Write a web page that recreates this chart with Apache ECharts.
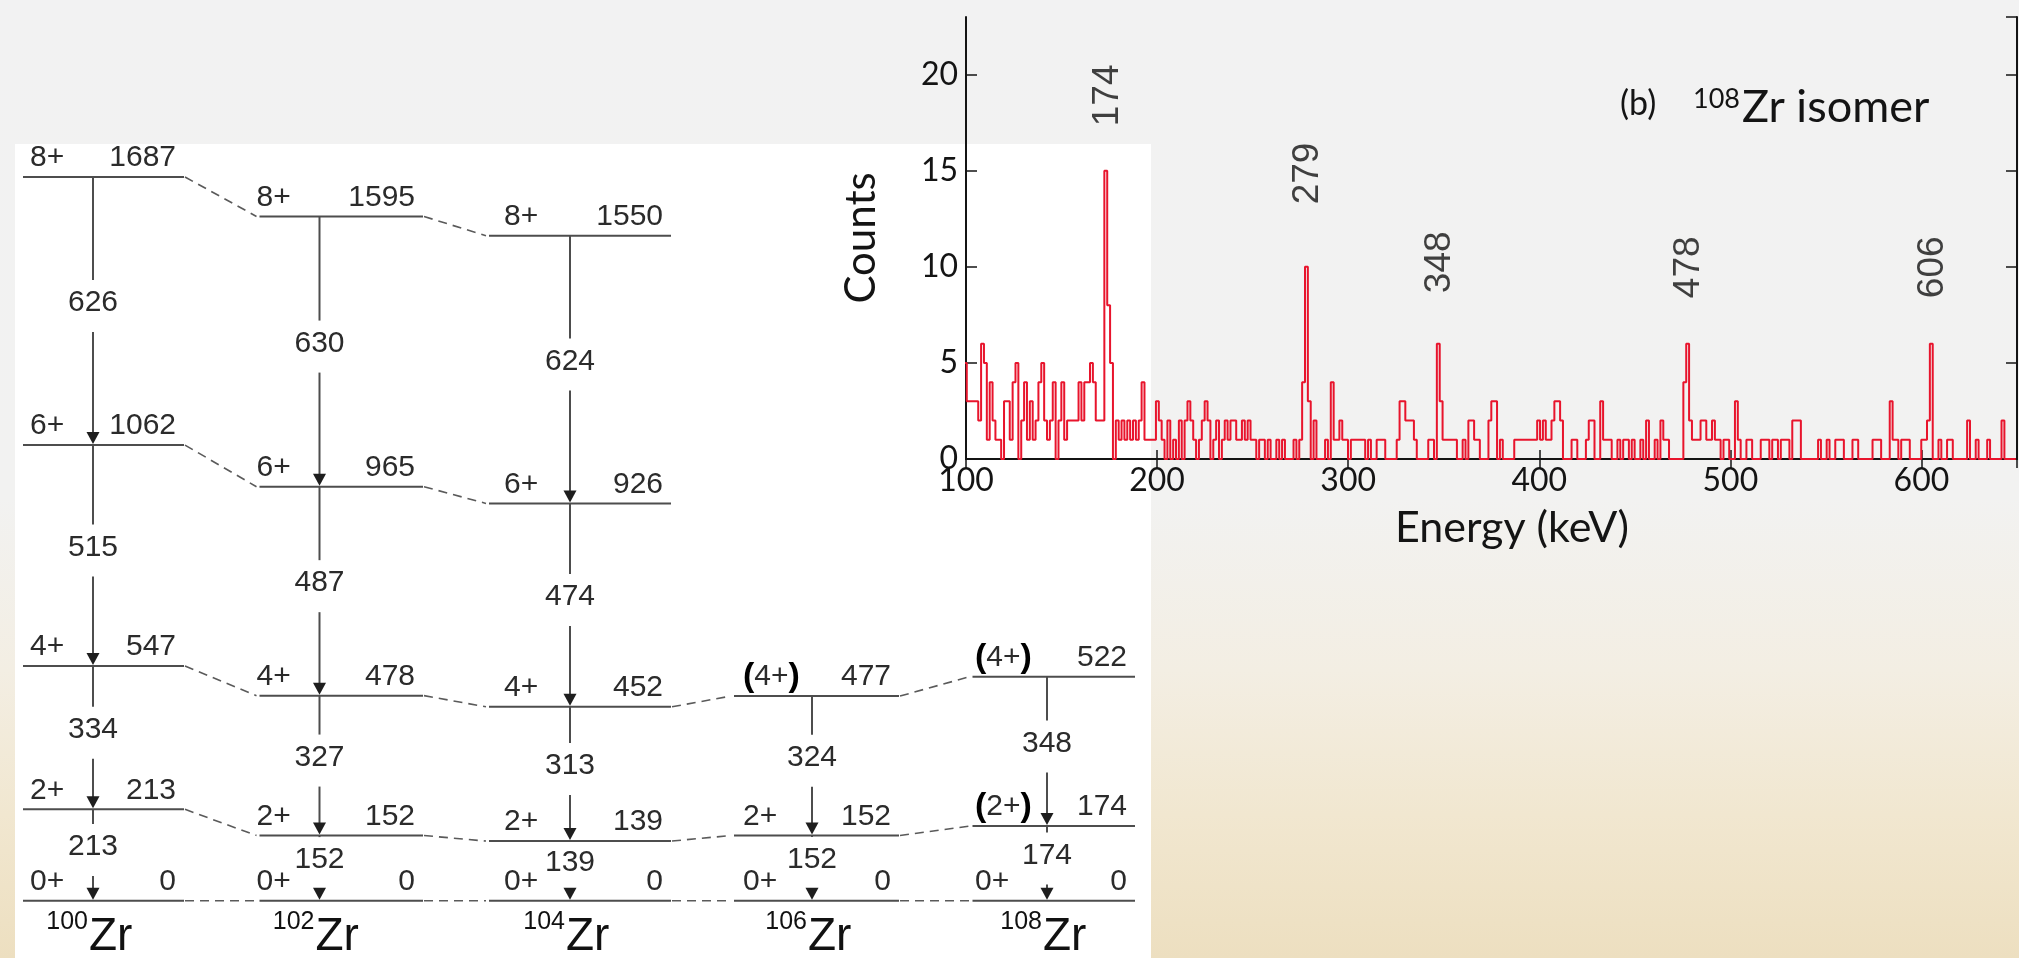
<!DOCTYPE html>
<html>
<head>
<meta charset="utf-8">
<script src="https://cdn.jsdelivr.net/npm/echarts@6/dist/echarts.min.js"></script>
<style>
html,body{margin:0;padding:0;width:2019px;height:958px;overflow:hidden;}
body{background:linear-gradient(180deg,#f2f2f2 0%,#f2f2f1 52%,#f3eee3 70%,#f1e7d0 85%,#eddfc0 100%);position:relative;}
#panel{position:absolute;left:15px;top:144px;width:1136px;height:814px;background:#ffffff;}
#chart{position:absolute;left:0;top:0;width:2019px;height:958px;}
</style>
</head>
<body>
<div id="panel"></div>
<div id="chart"></div>
<script>
// ================= DATA =================
// Spectrum (b): 108Zr isomer, histogram with 1.5 keV bins
const binStart = 98.9;   // keV, lower edge of first bin
const binWidth = 1.5;    // keV
const counts = [
  5,3,3,3,3,2,6,5,1,4,2,1,1,0,3,3,1,4,5,0,
  2,4,1,3,1,2,4,5,2,1,2,4,0,2,4,1,2,2,2,2,
  4,2,4,4,5,4,2,2,2,15,8,5,0,2,1,2,1,2,1,2,
  1,2,4,1,1,1,1,3,2,1,0,2,0,1,0,2,0,2,3,2,
  1,0,1,2,3,2,0,1,2,0,1,2,1,2,2,1,1,2,1,2,
  1,1,0,1,1,0,1,0,0,1,0,1,0,0,0,1,0,1,4,10,
  3,0,2,0,0,0,1,0,4,1,1,2,1,1,0,1,1,1,1,1,
  0,1,0,0,1,1,1,0,0,0,0,1,3,3,2,2,2,1,0,0,
  0,0,1,1,0,6,3,1,1,1,1,1,0,0,1,0,2,2,1,1,
  0,0,0,2,3,3,0,1,0,0,0,0,1,1,1,1,1,1,1,1,
  2,1,2,1,1,2,3,3,2,0,0,0,1,1,0,0,0,1,2,2,
  0,0,3,1,1,1,0,0,1,0,1,1,0,1,0,0,1,0,2,0,
  0,1,0,2,1,1,0,0,0,0,0,4,6,2,1,1,1,2,2,1,
  1,2,1,1,0,1,1,0,0,3,1,0,0,1,1,0,0,0,1,1,
  1,0,1,1,0,1,1,1,0,2,2,2,0,0,0,0,0,0,1,0,
  0,1,0,0,1,1,1,0,0,0,1,1,0,0,0,0,0,1,1,1,
  0,0,0,3,1,1,0,1,1,1,0,0,0,0,1,1,2,6,0,0,
  1,0,0,1,1,0,0,0,0,0,2,0,0,1,0,0,0,1,0,0,
  0,0,2,0,0,0,0
];
const xTicks = [100,200,300,400,500,600];
const yTicks = [0,5,10,15,20];
const peakEnergies = [174,279,348,478,606];
const peakLabels = ['174','279','348','478','606'];

// Level schemes of even-even Zr isotopes
const massNumbers = [100,102,104,106,108];
const levelEnergies = [
  [0,213,547,1062,1687],
  [0,152,478,965,1595],
  [0,139,452,926,1550],
  [0,152,477],
  [0,174,522]
];
const levelSpins = [
  ['0+','2+','4+','6+','8+'],
  ['0+','2+','4+','6+','8+'],
  ['0+','2+','4+','6+','8+'],
  ['0+','2+','(4+)'],
  ['0+','(2+)','(4+)']
];
const gammaEnergies = [
  [213,334,515,626],
  [152,327,487,630],
  [139,313,474,624],
  [152,324],
  [174,348]
];

// ================= LAYOUT / STYLE =================
const LAYOUT = {
  lineL:  [-80.5,-81.5,-89.5,-82,-81],   // px, level line left end from column position
  lineR:  [ 80.5, 82,   92.5, 83, 81.5],
  arrowDx:[-10.5,-21.5,-8.5,-4,-6.5],
  spinDx: [-73.5,-84.5,-74.5,-73,-78.5],
  levelTextRise: 19,
  gammaRise: 8,
  gapAbove: 23,
  gapBelow: 29,
  arrowW: 13,
  arrowH: 12,
  peakLabelGap: [44,62,50,45,45]
};
const FONT_D = '"Liberation Sans", Arial, Helvetica, sans-serif';
const FONT_S = 'Lato, "Open Sans", sans-serif';
const TXT = '#2b2b2b';
const LINEC = '#4d4d4d';
const RED = '#e8142c';
const AX = '#141414';

// ================= BUILD =================
const histData = counts.map((c,k) => [binStart + k*binWidth, c]);
histData.push([binStart + counts.length*binWidth, counts[counts.length-1]]);

const peakCounts = peakEnergies.map(E => {
  let m = 0;
  counts.forEach((c,k) => {
    const lo = binStart + k*binWidth, hi = lo + binWidth;
    if (hi > E - 2.5 && lo < E + 0.5) m = Math.max(m, c);
  });
  return m;
});

const levelItems = [], transItems = [], connItems = [];
massNumbers.forEach((A,n) => {
  levelEnergies[n].forEach((E,i) => levelItems.push({A, E, n, spin: levelSpins[n][i]}));
  gammaEnergies[n].forEach((Eg,i) => transItems.push({A, n, Eg, Eu: levelEnergies[n][i+1], El: levelEnergies[n][i]}));
});
for (let n = 0; n < massNumbers.length - 1; n++) {
  const a = levelEnergies[n], b = levelEnergies[n+1];
  for (let i = 0; i < Math.min(a.length, b.length); i++) {
    connItems.push({n1:n, n2:n+1, A1:massNumbers[n], E1:a[i], A2:massNumbers[n+1], E2:b[i]});
  }
}

function spinRich(s){
  if (s[0] === '(') return '{p|(}{s|' + s.slice(1,-1) + '}{p|)}';
  return '{s|' + s + '}';
}
const RICH = {
  s: {fontSize:30, fontFamily:FONT_D, fill:TXT},
  p: {fontSize:34, fontFamily:FONT_D, fontWeight:'bold', fill:'#000'}
};

const chart = echarts.init(document.getElementById('chart'), null, {renderer:'canvas', width:2019, height:958});

const axisCommon = {
  type:'value',
  axisLine:{show:true, lineStyle:{color:AX, width:2}},
  splitLine:{show:false}
};

const option = {
  animation:false,
  backgroundColor:'transparent',
  grid:[
    {left:966, top:17, width:1051, height:442, containLabel:false},
    {left:8.5, top:128.5, width:1140, height:772.2, containLabel:false}
  ],
  xAxis:[
    Object.assign({}, axisCommon, {
      gridIndex:0, position:'bottom', min:100, max:650, interval:100,
      axisTick:{show:true, inside:true, length:9, lineStyle:{color:AX, width:1.5}},
      axisLabel:{show:true, margin:6, color:AX, fontFamily:FONT_S, fontSize:32, showMaxLabel:false,
        formatter: v => xTicks.includes(v) ? String(v) : ''},
      name:'Energy (keV)', nameLocation:'middle', nameGap:48,
      nameTextStyle:{fontFamily:FONT_S, fontSize:43, color:AX, padding:[0,0,0,41]}
    }),
    Object.assign({}, axisCommon, {
      gridIndex:0, position:'top', min:100, max:650, interval:100,
      axisTick:{show:true, inside:true, length:9, lineStyle:{color:AX, width:1.5}},
      axisLabel:{show:false}
    }),
    {gridIndex:1, type:'value', min:99.2, max:108.8, show:false}
  ],
  yAxis:[
    Object.assign({}, axisCommon, {
      gridIndex:0, position:'left', min:0, max:23, interval:5,
      axisTick:{show:true, inside:true, length:11, lineStyle:{color:AX, width:1.5}},
      axisLabel:{show:true, margin:8, color:AX, fontFamily:FONT_S, fontSize:32, showMaxLabel:false,
        formatter: v => yTicks.includes(v) ? String(v) : ''},
      name:'Counts', nameLocation:'middle', nameGap:84,
      nameTextStyle:{fontFamily:FONT_S, fontSize:42, color:AX}
    }),
    Object.assign({}, axisCommon, {
      gridIndex:0, position:'right', min:0, max:23, interval:5,
      axisTick:{show:true, inside:true, length:11, lineStyle:{color:AX, width:1.5}},
      axisLabel:{show:false}
    }),
    {gridIndex:1, type:'value', min:0, max:1800, show:false}
  ],
  graphic:[
    {type:'text', x:1620, y:104, style:{text:'(b)', font:'34px ' + FONT_S, fill:AX, align:'left', verticalAlign:'middle'}},
    {type:'text', x:1740, y:99, style:{text:'108', font:'27px ' + FONT_S, fill:AX, align:'right', verticalAlign:'middle'}},
    {type:'text', x:1742, y:107, style:{text:'Zr isomer', font:'45px ' + FONT_S, fill:AX, align:'left', verticalAlign:'middle'}}
  ],
  series:[
    {
      type:'line', xAxisIndex:0, yAxisIndex:0, data:histData, step:'end',
      showSymbol:false, symbol:'none', clip:true,
      lineStyle:{color:RED, width:2}, z:3
    },
    {
      type:'scatter', xAxisIndex:0, yAxisIndex:0, symbolSize:1, silent:true,
      itemStyle:{color:'rgba(0,0,0,0)'},
      data: peakEnergies.map((E,i) => ({value:[E, peakCounts[i]], label:{distance:LAYOUT.peakLabelGap[i]}})),
      label:{show:true, position:'top', rotate:90, align:'left', verticalAlign:'middle',
        fontFamily:FONT_D, fontSize:37, color:'#111',
        formatter: p => peakLabels[p.dataIndex]},
      z:4
    },
    {
      // dashed connectors between corresponding levels
      type:'custom', xAxisIndex:2, yAxisIndex:2, silent:true,
      data: connItems.map(d => [d.A1, d.E1, d.A2, d.E2]),
      renderItem: function(params, api){
        const d = connItems[params.dataIndex];
        const p1 = api.coord([d.A1, d.E1]), p2 = api.coord([d.A2, d.E2]);
        return {type:'line', shape:{x1:p1[0]+LAYOUT.lineR[d.n1]+1, y1:p1[1], x2:p2[0]+LAYOUT.lineL[d.n2]-3, y2:p2[1]},
          style:{stroke:'#5a5a5a', lineWidth:1.6, lineDash:[9,6]}};
      }
    },
    {
      // levels
      type:'custom', xAxisIndex:2, yAxisIndex:2, silent:true,
      data: levelItems.map(d => [d.A, d.E]),
      renderItem: function(params, api){
        const d = levelItems[params.dataIndex];
        const c = api.coord([d.A, d.E]);
        const x1 = c[0] + LAYOUT.lineL[d.n], x2 = c[0] + LAYOUT.lineR[d.n];
        const ty = c[1] - LAYOUT.levelTextRise;
        return {type:'group', children:[
          {type:'line', shape:{x1:x1, y1:c[1], x2:x2, y2:c[1]}, style:{stroke:LINEC, lineWidth:2}},
          {type:'text', style:{x:c[0]+LAYOUT.spinDx[d.n], y:ty, text:spinRich(d.spin), rich:RICH,
            font:'30px ' + FONT_D, fill:TXT, align:'left', verticalAlign:'middle'}},
          {type:'text', style:{x:x2-8, y:ty, text:String(d.E), font:'30px ' + FONT_D, fill:TXT,
            align:'right', verticalAlign:'middle'}}
        ]};
      }
    },
    {
      // gamma transitions
      type:'custom', xAxisIndex:2, yAxisIndex:2, silent:true,
      data: transItems.map(d => [d.A, d.Eu, d.El]),
      renderItem: function(params, api){
        const d = transItems[params.dataIndex];
        const top = api.coord([d.A, d.Eu]), bot = api.coord([d.A, d.El]);
        const ax = top[0] + LAYOUT.arrowDx[d.n];
        const ly = (top[1] + bot[1]) / 2 - LAYOUT.gammaRise;
        const g1 = ly - LAYOUT.gapAbove, g2 = ly + LAYOUT.gapBelow;
        const tipY = bot[1] - 1, baseY = tipY - LAYOUT.arrowH;
        const ch = [];
        if (g1 > top[1]) ch.push({type:'line', shape:{x1:ax, y1:top[1], x2:ax, y2:g1}, style:{stroke:LINEC, lineWidth:2}});
        if (baseY > g2) ch.push({type:'line', shape:{x1:ax, y1:g2, x2:ax, y2:baseY+1}, style:{stroke:LINEC, lineWidth:2}});
        ch.push({type:'polygon', shape:{points:[[ax-LAYOUT.arrowW/2, baseY],[ax+LAYOUT.arrowW/2, baseY],[ax, tipY]]},
          style:{fill:'#1e1e1e'}});
        ch.push({type:'text', style:{x:ax, y:ly, text:String(d.Eg), font:'30px ' + FONT_D, fill:TXT,
          align:'center', verticalAlign:'middle'}});
        return {type:'group', children:ch};
      }
    },
    {
      // nuclide labels
      type:'custom', xAxisIndex:2, yAxisIndex:2, silent:true,
      data: massNumbers.map(A => [A, 0]),
      renderItem: function(params, api){
        const n = params.dataIndex;
        const c = api.coord([massNumbers[n], 0]);
        const jx = c[0] + LAYOUT.arrowDx[n] - 5;
        return {type:'group', children:[
          {type:'text', style:{x:jx, y:c[1]+21, text:String(massNumbers[n]), font:'25px ' + FONT_D, fill:'#111',
            align:'right', verticalAlign:'middle'}},
          {type:'text', style:{x:jx+1, y:c[1]+37, text:'Zr', font:'46px ' + FONT_D, fill:'#111',
            align:'left', verticalAlign:'middle'}}
        ]};
      }
    }
  ]
};
chart.setOption(option);
</script>
</body>
</html>
